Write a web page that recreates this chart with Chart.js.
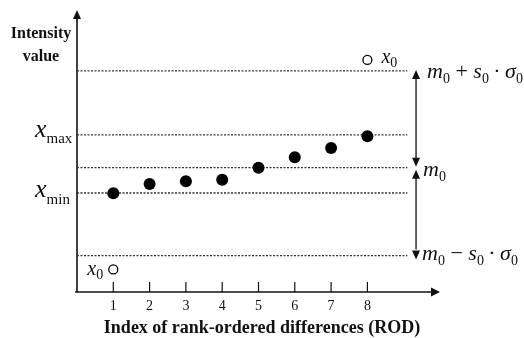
<!DOCTYPE html>
<html>
<head>
<meta charset="utf-8">
<script src="https://cdn.jsdelivr.net/npm/chart.js@4"></script>
<style>
  html, body { margin: 0; padding: 0; background: #fff; }
  canvas { display: block; }
</style>
</head>
<body>
<canvas id="rodGraph" width="524" height="338"></canvas>
<script>
// rank-ordered differences (index and intensity)
const rodIndex = [1, 2, 3, 4, 5, 6, 7, 8];
const rodValues = [35.0, 38.3, 39.3, 39.8, 44.1, 47.8, 51.1, 55.2];

// the two x0 candidates (open circles)
const outlierIndex = [8, 1];
const outlierValues = [82.3, 8.0];

// dotted reference levels: m0+s0σ0, xmax, m0, xmin, m0-s0σ0
const levelNames = ['upper', 'xmax', 'm0', 'xmin', 'lower'];
const levelValues = [78.4, 55.7, 44.1, 35.1, 12.9];

const xTickLabels = ['1', '2', '3', '4', '5', '6', '7', '8'];

const lineEnd = 9.1;     // where the dotted lines stop
const bracketX = 9.34;   // where the vertical double arrows are

const serif = '"Liberation Serif", "Times New Roman", serif';

function mathText(ctx, x, y, parts) {
    ctx.textAlign = 'left';
    ctx.textBaseline = 'alphabetic';
    parts.forEach(function (p) {
        ctx.font = p[1];
        ctx.fillText(p[0], x, y + (p[2] || 0));
        x += ctx.measureText(p[0]).width;
    });
}

function arrowHead(ctx, x, y, dir) {
    // dir: 'up', 'down', 'right'
    ctx.beginPath();
    if (dir === 'up') {
        ctx.moveTo(x, y); ctx.lineTo(x - 4, y + 9); ctx.lineTo(x + 4, y + 9);
    } else if (dir === 'down') {
        ctx.moveTo(x, y); ctx.lineTo(x - 4, y - 9); ctx.lineTo(x + 4, y - 9);
    } else {
        ctx.moveTo(x, y); ctx.lineTo(x - 9, y - 4.5); ctx.lineTo(x - 9, y + 4.5);
    }
    ctx.closePath();
    ctx.fill();
}

const annotations = {
    id: 'annotations',
    beforeDatasetsDraw: function (chart) {
        const ctx = chart.ctx;
        const a = chart.chartArea;
        const xs = chart.scales.x;
        ctx.save();
        ctx.strokeStyle = '#111';
        ctx.fillStyle = '#111';
        ctx.lineWidth = 1.6;

        // y axis with arrow
        ctx.beginPath();
        ctx.moveTo(a.left, a.bottom);
        ctx.lineTo(a.left, a.top + 6);
        ctx.stroke();
        arrowHead(ctx, a.left, a.top, 'up');

        // x axis with arrow
        ctx.beginPath();
        ctx.moveTo(a.left - 2, a.bottom);
        ctx.lineTo(a.right - 6, a.bottom);
        ctx.stroke();
        arrowHead(ctx, a.right, a.bottom, 'right');

        // tick marks and labels
        ctx.lineWidth = 1.2;
        ctx.font = '14px ' + serif;
        ctx.textAlign = 'center';
        ctx.textBaseline = 'alphabetic';
        rodIndex.forEach(function (v, i) {
            const px = xs.getPixelForValue(v);
            ctx.beginPath();
            ctx.moveTo(px, a.bottom);
            ctx.lineTo(px, a.bottom - 10);
            ctx.stroke();
            ctx.fillText(xTickLabels[i], px, a.bottom + 18);
        });
        ctx.restore();
    },
    afterDraw: function (chart) {
        const ctx = chart.ctx;
        const xs = chart.scales.x;
        const ys = chart.scales.y;
        ctx.save();
        ctx.fillStyle = '#111';
        ctx.strokeStyle = '#111';

        // double arrows on the right
        const bx = xs.getPixelForValue(bracketX);
        const yUp = ys.getPixelForValue(levelValues[0]);
        const yMid = ys.getPixelForValue(levelValues[2]);
        const yLow = ys.getPixelForValue(levelValues[4]);
        ctx.lineWidth = 1.3;
        ctx.beginPath();
        ctx.moveTo(bx, yUp + 6); ctx.lineTo(bx, yMid - 8);
        ctx.moveTo(bx, yMid + 8); ctx.lineTo(bx, yLow - 6);
        ctx.stroke();
        arrowHead(ctx, bx, yUp - 1, 'up');
        arrowHead(ctx, bx, yMid - 1, 'down');
        arrowHead(ctx, bx, yMid + 2, 'up');
        arrowHead(ctx, bx, yLow + 4, 'down');

        const I = 'italic 22px ' + serif;
        const R = '22px ' + serif;
        const S = '14px ' + serif;
        const dot = '\u2009\u00b7\u2009';
        mathText(ctx, bx + 11, yUp + 7, [['m', I], ['0', S, 5], [' + ', R], ['s', I], ['0', S, 5], [dot, R], ['\u03c3', I], ['0', S, 5]]);
        mathText(ctx, bx + 7, yMid + 8, [['m', I], ['0', S, 5]]);
        mathText(ctx, bx + 6, yLow + 4, [['m', I], ['0', S, 5], [' \u2212 ', R], ['s', I], ['0', S, 5], [dot, R], ['\u03c3', I], ['0', S, 5]]);

        // x_max, x_min on the left
        const XI = 'italic 26px ' + serif;
        const XS = '15px ' + serif;
        mathText(ctx, 35, ys.getPixelForValue(levelValues[1]) + 2, [['x', XI], ['max', XS, 6]]);
        mathText(ctx, 35, ys.getPixelForValue(levelValues[3]) + 4, [['x', XI], ['min', XS, 7]]);

        // x0 labels next to the open circles
        const OI = 'italic 20px ' + serif;
        const OS = '14px ' + serif;
        const ox1 = xs.getPixelForValue(outlierIndex[0]);
        const oy1 = ys.getPixelForValue(outlierValues[0]);
        mathText(ctx, ox1 + 14, oy1 + 3, [['x', OI], ['0', OS, 4]]);
        const ox2 = xs.getPixelForValue(outlierIndex[1]);
        const oy2 = ys.getPixelForValue(outlierValues[1]);
        mathText(ctx, ox2 - 26, oy2 + 6, [['x', OI], ['0', OS, 4]]);

        // axis titles
        ctx.font = 'bold 16px ' + serif;
        ctx.textAlign = 'center';
        ctx.fillText('Intensity', 41, 38);
        ctx.fillText('value', 41, 61);
        ctx.font = 'bold 18px ' + serif;
        ctx.fillText('Index of rank-ordered differences (ROD)', 262, 333);
        ctx.restore();
    }
};

const levelDatasets = levelValues.map(function (v, i) {
    return {
        type: 'line',
        label: levelNames[i],
        data: [{ x: 0, y: v }, { x: lineEnd, y: v }],
        borderColor: '#333',
        borderWidth: 1.3,
        borderDash: [2, 1.5],
        pointRadius: 0,
        order: 3
    };
});

new Chart(document.getElementById('rodGraph'), {
    type: 'scatter',
    data: {
        datasets: levelDatasets.concat([
            {
                label: 'ROD',
                data: rodIndex.map(function (x, i) { return { x: x, y: rodValues[i] }; }),
                pointRadius: 6,
                backgroundColor: '#000',
                borderColor: '#000',
                borderWidth: 0,
                order: 1
            },
            {
                label: 'x0',
                data: outlierIndex.map(function (x, i) { return { x: x, y: outlierValues[i] }; }),
                pointRadius: 4.5,
                backgroundColor: '#fff',
                borderColor: '#000',
                borderWidth: 1.3,
                order: 1
            }
        ])
    },
    options: {
        responsive: false,
        animation: false,
        layout: { padding: { left: 77, right: 84, top: 10, bottom: 46 } },
        plugins: {
            legend: { display: false },
            tooltip: { enabled: false }
        },
        scales: {
            x: { type: 'linear', min: 0, max: 10, display: false },
            y: { type: 'linear', min: 0, max: 100, display: false }
        }
    },
    plugins: [annotations]
});
</script>
</body>
</html>
